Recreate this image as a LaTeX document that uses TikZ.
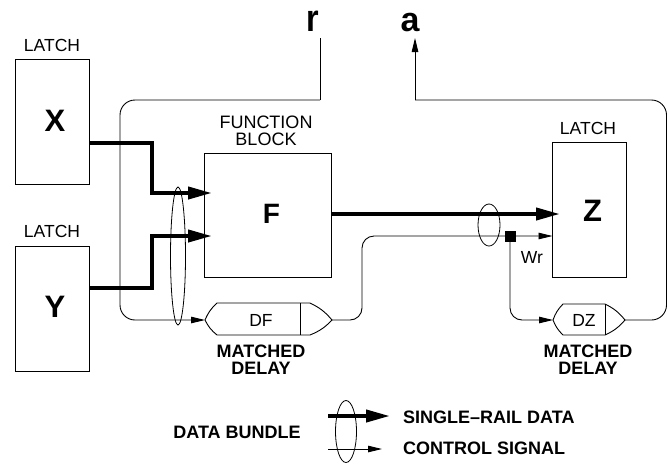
\documentclass[tikz,border=0pt]{standalone}
\usepackage{fontspec}
\setmainfont{Liberation Sans}
\usetikzlibrary{arrows.meta}
\begin{document}
\begin{tikzpicture}[x=1pt,y=-1pt,
  box/.style={draw, line width=0.9pt, inner sep=0pt},
  lbl/.style={inner sep=0pt, font=\fontsize{17.5}{17}\selectfont},
  blbl/.style={inner sep=0pt, align=center, font=\fontsize{18}{17.5}\selectfont\bfseries},
  big/.style={inner sep=0pt, font=\fontsize{31}{31}\selectfont\bfseries},
  wire/.style={line width=0.9pt},
  ctrl/.style={line width=0.9pt, -{Triangle[length=14pt,width=6.5pt]}},
  data/.style={line width=4pt, -{Triangle[length=24pt,width=12pt]}},
  bundle/.style={line width=0.8pt}]
\useasboundingbox (0,0) rectangle (668,464);

% latches and function block
\node[box, minimum width=74pt, minimum height=125pt] (X) at (52,121.5) {};
\node[box, minimum width=74pt, minimum height=125pt] (Y) at (52,308.5) {};
\node[box, minimum width=127pt, minimum height=124pt] (F) at (267.5,215) {};
\node[box, minimum width=74pt, minimum height=135pt] (Z) at (589,209.5) {};
\node[big] (Xt) at (55,121) {X};
\node[big] (Yt) at (55,306.5) {Y};
\node[big, font=\fontsize{28}{28}\selectfont\bfseries] (Ft) at (271.5,214) {F};
\node[big] (Zt) at (592.5,211) {Z};
\node[lbl] (lx) at (52,45.5) {LATCH};
\node[lbl] (ly) at (52,231) {LATCH};
\node[lbl] (lz) at (588,128) {LATCH};
\node[lbl, align=center, font=\fontsize{18}{17}\selectfont] (lf) at (266,130.5) {FUNCTION\\BLOCK};

% r and a
\node[inner sep=0pt, anchor=base, font=\fontsize{38}{38}\selectfont\bfseries, xscale=0.85] (r) at (313,31) {r};
\node[inner sep=0pt, anchor=base, font=\fontsize{34}{34}\selectfont\bfseries] (a) at (410,31) {a};
\coordinate (rtop) at (320,38);
\coordinate (atip) at (415,38);
\coordinate (rcorner) at (320,100);
\coordinate (acorner) at (415,100);

% delay elements
\coordinate (DFw) at (205,320);
\coordinate (DFe) at (332,320);
\draw[wire] (DFw) to[bend left=12] (217,303) -- (310,303) to[bend left=12] (DFe)
  to[bend left=12] (310,335) -- (217,335) to[bend left=12] cycle;
\draw[wire] (300,303) -- (300,335);
\node[lbl] (dft) at (261,320) {DF};
\coordinate (DZw) at (553,320);
\coordinate (DZe) at (625,320);
\draw[wire] (DZw) to[bend left=12] (563,304) -- (605,304) to[bend left=12] (DZe)
  to[bend left=12] (605,335) -- (563,335) to[bend left=12] cycle;
\draw[wire] (605,304) -- (605,335);
\node[lbl] (dzt) at (584,320) {DZ};
\node[blbl] (md1) at (261,359.5) {MATCHED\\DELAY};
\node[blbl] (md2) at (588,359.5) {MATCHED\\DELAY};

% request path
\draw[wire] (rtop) -- (rcorner);
\draw[ctrl, rounded corners=15pt] (rcorner) -- (120,100) -- (120,320) -- (DFw);

% data paths
\coordinate (Fin1) at (212,193);
\coordinate (Fin2) at (212,236);
\draw[data] (X.east |- 0,143) -- (152,143) -- (152,193) -- (Fin1);
\draw[data] (Y.east |- 0,288) -- (152,288) -- (152,236) -- (Fin2);
\coordinate (Zin) at (560,214);
\draw[data] (F.east |- 0,214) -- (Zin);

% control into Z
\coordinate (Zctl) at (552.5,236);
\draw[ctrl, rounded corners=12pt] (DFe) -- (362,320) -- (362,236) -- (Zctl);
\node[fill, minimum size=11pt, inner sep=0pt] (jn) at (510,236) {};
\draw[ctrl, rounded corners=12pt] (jn.center) -- (510,320) -- (DZw);
\node[lbl] (wr) at (532,257) {Wr};

% acknowledge path
\draw[wire, rounded corners=15pt] (DZe) -- (666.5,320) -- (666.5,100) -- (acorner);
\draw[ctrl] (acorner) -- (atip);

% bundles
\draw[bundle] (178,256) ellipse [x radius=7.5, y radius=69];
\draw[bundle] (489,225) ellipse [x radius=11, y radius=21];

% legend
\coordinate (L1a) at (328,416);
\coordinate (L1b) at (390,416);
\coordinate (L2a) at (328,449);
\coordinate (L2b) at (382,449);
\draw[data] (L1a) -- (L1b);
\draw[ctrl] (L2a) -- (L2b);
\draw[bundle] (346,431.5) ellipse [x radius=10.5, y radius=31];
\node[blbl, anchor=west] (lg1) at (403,417) {SINGLE–RAIL DATA};
\node[blbl, anchor=west] (lg2) at (403,448) {CONTROL SIGNAL};
\node[blbl] (lg3) at (237,432) {DATA BUNDLE};
\end{tikzpicture}
\end{document}
